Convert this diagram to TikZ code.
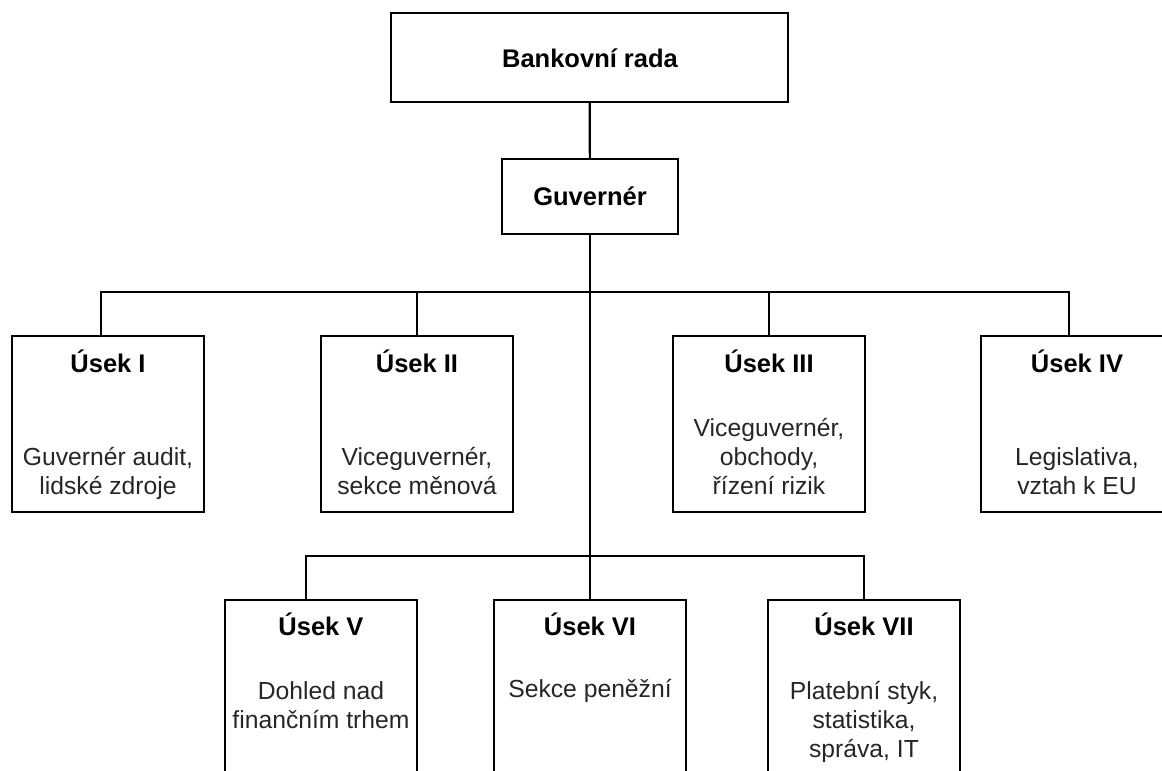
\documentclass[tikz,border=0pt]{standalone}
\usepackage{fontspec}
\setmainfont{Liberation Sans}
\begin{document}
\begin{tikzpicture}[x=1pt,y=-1pt,
  box/.style={draw=black, line width=2.2pt, rectangle, inner sep=0pt},
  conn/.style={draw=black, line width=2.2pt},
  ubox/.style={box, minimum width=192pt, minimum height=176pt},
  lbox/.style={box, minimum width=192pt, minimum height=200pt},
  ttl/.style={font=\fontsize{25.5}{29}\selectfont\bfseries, anchor=base, inner sep=0pt},
  body/.style={font=\fontsize{24.7}{29}\selectfont, text=black!85, anchor=base, inner sep=0pt, align=center}]
\useasboundingbox (0,0) rectangle (1162,771);
\clip (0,0) rectangle (1162,771);

% boxes
\node[box, minimum width=397pt, minimum height=89pt] (rada) at (589.5,57.5) {};
\node[box, minimum width=176pt, minimum height=75pt] (guv) at (590,196.5) {};
\node[ubox] (b1) at (108,424) {};
\node[ubox] (b2) at (417,424) {};
\node[ubox] (b3) at (769,424) {};
\node[ubox] (b4) at (1077,424) {};
\node[lbox] (b5) at (321,700) {};
\node[lbox] (b6) at (590,700) {};
\node[lbox] (b7) at (864,700) {};

% texts
\node[ttl] (trada) at (590,67) {Bankovní rada};
\node[ttl] (tguv) at (590,205) {Guvernér};
\node[ttl] (t1) at (108,372) {Úsek I};
\node[ttl] (t2) at (417,372) {Úsek II};
\node[ttl] (t3) at (769,372) {Úsek III};
\node[ttl] (t4) at (1077,372) {Úsek IV};
\node[ttl] (t5) at (321,635) {Úsek V};
\node[ttl] (t6) at (590,635) {Úsek VI};
\node[ttl] (t7) at (864,635) {Úsek VII};

\node[body] (x1) at (108,494) {Guvernér audit,\\lidské zdroje};
\node[body] (x2) at (417,494) {Viceguvernér,\\sekce měnová};
\node[body] (x3) at (769,494) {Viceguvernér,\\obchody,\\řízení rizik};
\node[body] (x4) at (1077,494) {Legislativa,\\vztah k EU};
\node[body] (x5) at (321,728) {Dohled nad\\finančním trhem};
\node[body] (x6) at (590,697) {Sekce peněžní};
\node[body] (x7) at (864,757) {Platební styk,\\statistika,\\správa, IT};

% junction coordinates
\coordinate (j1) at (101,292);
\coordinate (j2) at (417,292);
\coordinate (jm) at (590,292);
\coordinate (j3) at (769,292);
\coordinate (j4) at (1069,292);
\coordinate (k5) at (306,556);
\coordinate (km) at (590,556);
\coordinate (k7) at (864,556);

% connectors
\draw[conn] (rada) -- (guv);
\draw[conn] (guv) -- (b6);
\draw[conn, line join=miter] (j1 |- b1.north) -- (j1) -- (j4) -- (j4 |- b4.north);
\draw[conn] (j2) -- (b2);
\draw[conn] (j3) -- (b3);
\draw[conn, line join=miter] (k5 |- b5.north) -- (k5) -- (k7) -- (b7);
\end{tikzpicture}
\end{document}
